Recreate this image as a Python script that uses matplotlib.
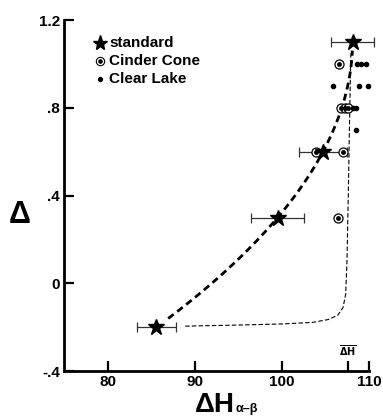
import numpy as np
import matplotlib
matplotlib.use("Agg")
import matplotlib.pyplot as plt

plt.rcParams['font.family'] = ['Liberation Sans', 'DejaVu Sans']
plt.rcParams['font.weight'] = 'bold'

# standard samples with horizontal error bars
std_dh = [85.6, 99.5, 104.7, 108.1]
std_delta = [-0.2, 0.3, 0.6, 1.1]
std_err = [2.2, 3.0, 2.7, 2.5]

# Cinder Cone samples
cc_dh = [106.5, 106.8, 107.2, 107.6, 103.9, 107.0, 106.4]
cc_delta = [1.0, 0.8, 0.8, 0.8, 0.6, 0.6, 0.3]

# Clear Lake samples
cl_dh = [108.6, 109.1, 109.6, 105.9, 108.8, 109.9, 108.1, 108.5, 108.5]
cl_delta = [1.0, 1.0, 1.0, 0.9, 0.9, 0.9, 0.8, 0.8, 0.7]

# limiting curve approaching the mean dH
lim_dh = [88.9, 95.0, 100.0, 103.5, 105.3, 106.4, 107.0, 107.3, 107.45, 107.6, 107.75, 107.9]
lim_delta = [-0.195, -0.19, -0.185, -0.178, -0.165, -0.145, -0.11, -0.05, 0.1, 0.4, 0.75, 1.06]

mean_dh = 107.6

fig = plt.figure(figsize=(3.83, 4.17), dpi=100)
ax = fig.add_axes([0.167, 0.110, 0.797, 0.842])
ax.set_xlim(75, 110)
ax.set_ylim(-0.4, 1.2)

# fitted trend through the standards
coef = np.polyfit(std_delta, std_dh, 3)
yy = np.linspace(-0.16, 1.06, 100)
ax.plot(np.polyval(coef, yy), yy, color='black', lw=2.0, dashes=(2.5, 1.6))

ax.plot(lim_dh, lim_delta, color='black', lw=0.8, dashes=(4, 2))

ax.errorbar(std_dh, std_delta, xerr=std_err, fmt='none', ecolor='#333333',
            elinewidth=0.9, capsize=3.5, capthick=0.9, clip_on=False, zorder=2)
ax.plot(cc_dh, cc_delta, 'o', ms=6.5, mfc='white', mec='black', mew=0.9, zorder=3)
ax.plot(cc_dh, cc_delta, 'o', ms=2.5, color='black', zorder=4)
ax.plot(cl_dh, cl_delta, 'o', ms=3, color='black', zorder=3, clip_on=False)
ax.plot(std_dh, std_delta, '*', ms=12, color='black', zorder=5, clip_on=False)

# legend
lx, ly = 0.118, [0.934, 0.883, 0.832]
ax.plot(lx, ly[0], '*', ms=11, color='black', transform=ax.transAxes)
ax.plot(lx, ly[1], 'o', ms=6, mfc='white', mec='black', mew=0.8, transform=ax.transAxes)
ax.plot(lx, ly[1], 'o', ms=2.3, color='black', transform=ax.transAxes)
ax.plot(lx, ly[2], 'o', ms=2.8, color='black', transform=ax.transAxes)
for y, name in zip(ly, ['standard', 'Cinder Cone', 'Clear Lake']):
    ax.text(lx + 0.03, y, name, transform=ax.transAxes, fontsize=11,
            fontweight='bold', va='center', ha='left')

for s in ['top', 'right']:
    ax.spines[s].set_visible(False)
for s in ['left', 'bottom']:
    ax.spines[s].set_linewidth(2.0)

ax.set_xticks([80, 90, 100, mean_dh, 110])
ax.set_xticklabels(['80', '90', '100', '', '110'])
ax.set_yticks([-0.4, 0, 0.4, 0.8, 1.2])
ax.set_yticklabels(['-.4', '0', '.4', '.8', '1.2'])
ax.tick_params(direction='in', length=7, width=1.6, labelsize=11, pad=3)
for lab in ax.get_xticklabels() + ax.get_yticklabels():
    lab.set_fontweight('bold')

ax.text(mean_dh, -0.34, r'$\overline{\mathbf{\Delta H}}$', fontsize=7,
        ha='center', va='bottom')

fig.text(0.052, 0.485, 'Δ', fontsize=22, fontweight='bold', ha='center', va='center')
fig.text(0.509, 0.012, 'ΔH', fontsize=20, fontweight='bold', ha='left', va='baseline')
fig.text(0.616, 0.012, 'α–β', fontsize=9, fontweight='bold', ha='left', va='baseline')

fig.savefig('out.png', dpi=100)
